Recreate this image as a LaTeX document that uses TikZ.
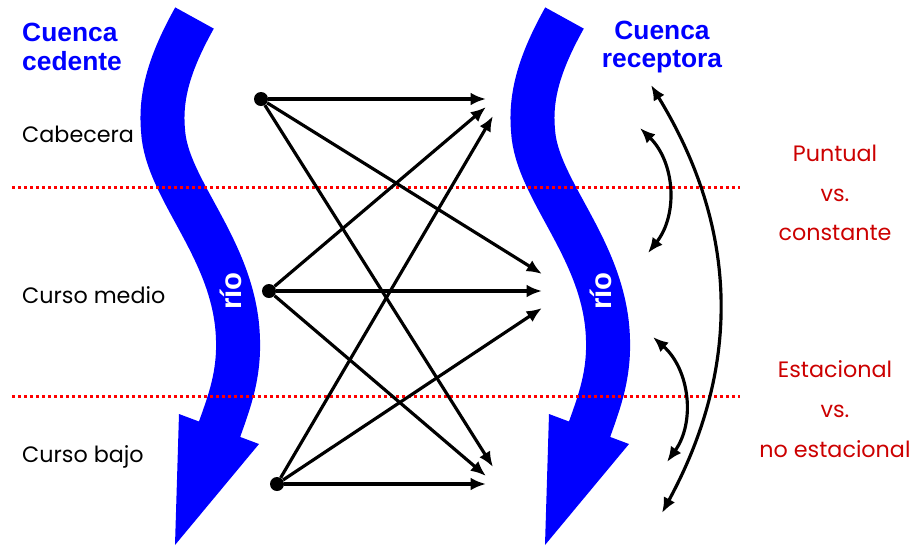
\documentclass[tikz,border=0pt]{standalone}
\usepackage{fontspec}
\setmainfont{Poppins}
\newfontfamily\titlefont{Liberation Sans}
\usetikzlibrary{arrows.meta}

\begin{document}
\begin{tikzpicture}[x=0.03cm,y=-0.03cm,
  font=\fontsize{19pt}{23pt}\selectfont,
  dot/.style={circle,fill=ink,inner sep=0pt,minimum size=0.42cm},
  link/.style={ink,line width=0.095cm,-{Latex[length=0.46cm,width=0.38cm]}},
  swing/.style={ink,line width=0.095cm,{Latex[length=0.46cm,width=0.38cm]}-{Latex[length=0.46cm,width=0.38cm]}},
  divide/.style={redline,line width=0.09cm,dash pattern=on 0.09cm off 0.09cm},
  river/.style={riverblue,line width=1.32cm},
  rio/.style={text=white,rotate=90,font=\titlefont\bfseries\fontsize{25pt}{30pt}\selectfont},
  basin/.style={text=riverblue,font=\titlefont\bfseries\fontsize{22.5pt}{24.7pt}\selectfont},
  stretch/.style={text=ink,anchor=base west,inner sep=0pt},
  contrast/.style={text=redtext,align=center,font=\fontsize{19pt}{34pt}\selectfont}]
\definecolor{ink}{HTML}{000000}\definecolor{riverblue}{HTML}{0000FF}
\definecolor{redline}{HTML}{FF0000}\definecolor{redtext}{HTML}{CC0000}
\useasboundingbox (0,0) rectangle (914,546);
% the two rivers
\foreach \s in {0,370}{
  \begin{scope}[shift={(\s,0)}]
    \draw[river] (194.5,18) .. controls (170,62) and (160,95) .. (163,130)
      .. controls (166,190) and (236,250) .. (238,340)
      .. controls (239,375) and (230,400) .. (220,428) -- (217,437);
    \fill[riverblue] (179,414) -- (175,545) -- (259,444) -- cycle;
    \node[rio] at (231,291) {río};
  \end{scope}
}
% reach boundaries
\draw[divide] (12,187) -- (740,187);
\draw[divide] (12,396) -- (740,396);
% titles and labels
\node[basin,anchor=west,align=left,inner sep=0pt] (ced) at (22,47) {Cuenca\\cedente};
\node[basin,align=center] (rec) at (662,47) {Cuenca\\receptora};
\node[stretch] (lcab) at (22,142) {Cabecera};
\node[stretch] (lmed) at (22,303) {Curso medio};
\node[stretch] (lbaj) at (22,462) {Curso bajo};
\node[contrast] (punt) at (835,193) {Puntual\\vs.\\constante};
\node[contrast] (esta) at (835,409) {Estacional\\vs.\\no estacional};
% transfer points
\node[dot] (cab) at (261,99) {};
\node[dot] (med) at (269,291) {};
\node[dot] (baj) at (277,484) {};
\coordinate (t1) at (486,99);  \coordinate (t2) at (486,107); \coordinate (t3) at (493,116);
\coordinate (m1) at (542,274); \coordinate (m2) at (542,291); \coordinate (m3) at (542,308);
\coordinate (b1) at (493,467); \coordinate (b2) at (486,476); \coordinate (b3) at (486,484);
\draw[link] (cab) -- (t1);
\draw[link] (cab) -- (m1);
\draw[link] (cab) -- (b1);
\draw[link] (med) -- (t2);
\draw[link] (med) -- (m2);
\draw[link] (med) -- (b2);
\draw[link] (baj) -- (t3);
\draw[link] (baj) -- (m3);
\draw[link] (baj) -- (b3);
% timing contrasts
\coordinate (w1) at (651,85);  \coordinate (w2) at (662,513);
\coordinate (u1) at (640,128); \coordinate (u2) at (648,253);
\coordinate (l1) at (653,337); \coordinate (l2) at (667,462);
\draw[swing] (w1) to[bend left=30] (w2);
\draw[swing] (u1) to[bend left=42] (u2);
\draw[swing] (l1) to[bend left=42] (l2);
\end{tikzpicture}
\end{document}
